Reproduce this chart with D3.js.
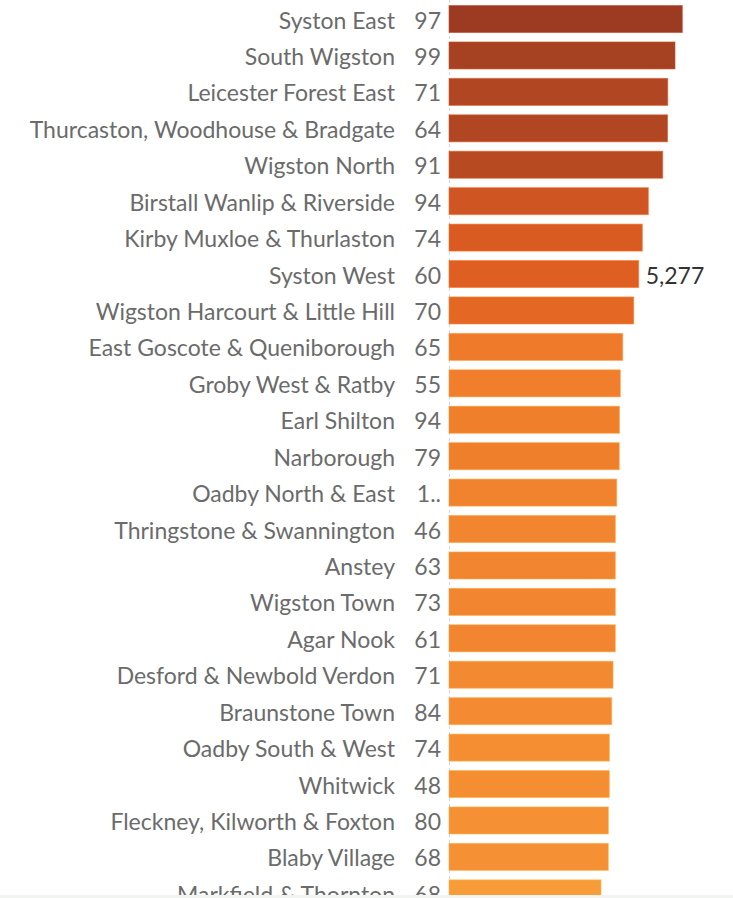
<!DOCTYPE html>
<html>
<head>
<meta charset="utf-8">
<script src="https://cdn.jsdelivr.net/npm/d3@7"></script>
<style>
  body { margin: 0; background: #fff; }
  #chart { width: 733px; height: 898px; overflow: hidden; }
</style>
</head>
<body>
<div id="chart"></div>
<script>
// ward names, top to bottom
const wards = [
    'Syston East', 'South Wigston', 'Leicester Forest East', 'Thurcaston, Woodhouse & Bradgate',
    'Wigston North', 'Birstall Wanlip & Riverside', 'Kirby Muxloe & Thurlaston', 'Syston West',
    'Wigston Harcourt & Little Hill', 'East Goscote & Queniborough', 'Groby West & Ratby',
    'Earl Shilton', 'Narborough', 'Oadby North & East', 'Thringstone & Swannington', 'Anstey',
    'Wigston Town', 'Agar Nook', 'Desford & Newbold Verdon', 'Braunstone Town',
    'Oadby South & West', 'Whitwick', 'Fleckney, Kilworth & Foxton', 'Blaby Village',
    'Markfield & Thornton'
];

// small count column shown next to each name (one is truncated in the view)
const counts = ['97', '99', '71', '64', '91', '94', '74', '60', '70', '65', '55', '94', '79',
    '1..', '46', '63', '73', '61', '71', '84', '74', '48', '80', '68', '68'];

// bar values (only Syston West is labelled, the rest)
const totals = [6490, 6287, 6085, 6080, 5945, 5545, 5378, 5277, 5138, 4832, 4766, 4740,
    4736, 4665, 4628, 4627, 4627, 4626, 4562, 4526, 4462, 4460, 4433, 4431, 4229];

const labelled = ['Syston West'];

const data = wards.map((w, i) => ({ ward: w, count: counts[i], total: totals[i] }));

const width = 733;
const height = 898;
const visible = 895;

let svg = d3.select('#chart').append('svg')
    .attr('width', width)
    .attr('height', height)
    .style('font-family', 'Lato, sans-serif');

svg.append('clipPath').attr('id', 'view')
    .append('rect').attr('width', width).attr('height', visible);

let g = svg.append('g').attr('clip-path', 'url(#view)');

let step = 36.43;
let y = d3.scaleBand()
    .domain(wards)
    .range([0.8, 0.8 + step * wards.length])
    .paddingInner(0.259)
    .paddingOuter(0.13);

let x = d3.scaleLinear()
    .domain([0, 7900])
    .range([449, 733]);

let color = d3.scaleLinear()
    .domain([4229, 4832, 5277, 5945, 6490])
    .range(['#f89b39', '#ef7a2a', '#df5e22', '#b84a22', '#9c3b22'])
    .clamp(true);

// dashed zero line
g.append('line')
    .attr('x1', x(0) + 0.5).attr('x2', x(0) + 0.5)
    .attr('y1', 0).attr('y2', visible)
    .attr('stroke', '#d4d4d4')
    .attr('stroke-dasharray', '3,3');

let row = g.selectAll('g.row')
    .data(data)
    .join('g')
        .attr('class', 'row')
        .attr('transform', d => `translate(0, ${y(d.ward)})`);

row.append('rect')
    .attr('x', x(0))
    .attr('width', d => x(d.total) - x(0))
    .attr('height', y.bandwidth())
    .attr('fill', d => color(d.total))
    .attr('stroke', d => d3.color(color(d.total)).brighter(0.6))
    .attr('stroke-width', 1)
    .attr('stroke-opacity', 0.6);

row.append('text')
    .attr('x', 395)
    .attr('y', y.bandwidth() / 2 + 9.5)
    .attr('text-anchor', 'end')
    .attr('fill', '#6b6b6b')
    .style('font-size', '23px')
    .text(d => d.ward);

row.append('text')
    .attr('x', 441)
    .attr('y', y.bandwidth() / 2 + 9.5)
    .attr('text-anchor', 'end')
    .attr('fill', '#6b6b6b')
    .style('font-size', '23px')
    .text(d => d.count);

row.filter(d => labelled.includes(d.ward))
    .append('text')
    .attr('x', d => x(d.total) + 7)
    .attr('y', y.bandwidth() / 2 + 9.5)
    .attr('fill', '#333')
    .style('font-size', '23px')
    .text(d => d3.format(',')(d.total));

// bottom edge strip
svg.append('rect')
    .attr('y', visible)
    .attr('width', width)
    .attr('height', height - visible)
    .attr('fill', '#f1f4f1');
</script>
</body>
</html>
